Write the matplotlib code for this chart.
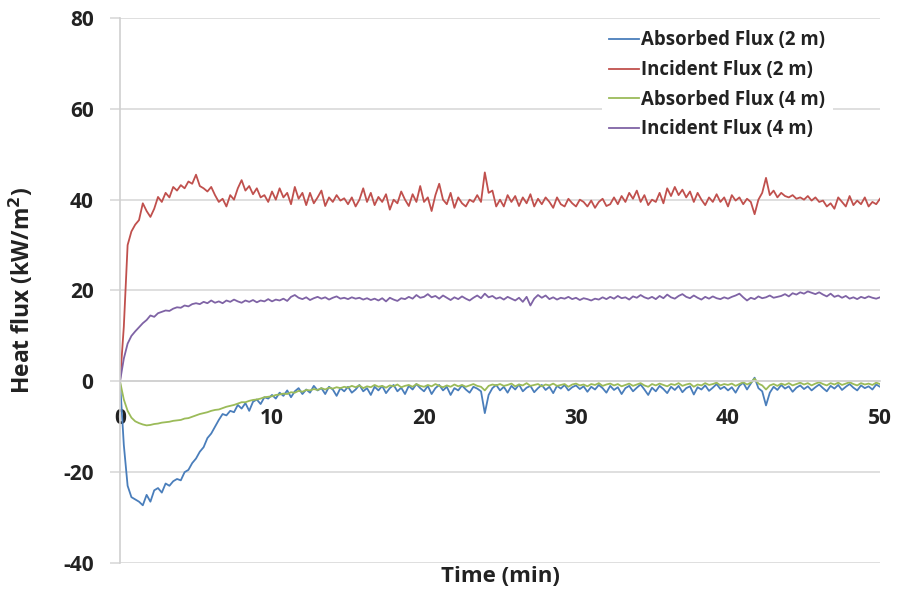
import numpy as np
import matplotlib.pyplot as plt

# time axis (min), one reading every 15 s
t = np.arange(0, 50.01, 0.25)

absorbed_2m = [
    0, -14, -23, -25.5, -26, -26.5, -27.3, -25, -26.5, -24, -23.5, -24.5, -22.5, -23, -22, -21.5, -21.8, -20, -19.5, -18,
    -17, -15.5, -14.5, -12.5, -11.5, -10, -8.5, -7.2, -7.5, -6.5, -6.8, -5.2, -6, -4.8, -6.5, -4.5, -4, -5, -3.5, -3.8,
    -3, -3.8, -2.5, -3.2, -2, -3.5, -2.2, -1.5, -2.8, -1.8, -2.5, -1, -2, -1.5, -2.8, -1.2, -1.8, -3.2, -1.5, -2.2,
    -1.2, -2.5, -1.8, -0.8, -2.2, -1.5, -3, -1.2, -2, -1, -2.6, -1.5, -0.8, -2.2, -1.4, -2.8, -1, -1.8, -0.6, -1.5,
    -2.2, -1, -2.8, -1.5, -0.8, -2, -1.2, -3, -1.5, -2, -0.9, -1.8, -2.5, -1.2, -1.6, -2.2, -7, -3, -1.5, -0.8,
    -2, -1.2, -2.5, -1, -1.8, -0.7, -2.2, -1.4, -1, -2.4, -1.5, -0.8, -1.9, -1.2, -2.6, -1, -1.6, -0.8, -2, -1.3,
    -0.9, -1.7, -1.1, -2.3, -1.2, -1.8, -0.8, -1.5, -2.5, -1, -1.9, -1.3, -2.8, -1.5, -1, -2.2, -1.4, -0.7, -1.8, -3,
    -1.4, -2.2, -1, -1.7, -2.6, -1.2, -1.9, -1, -2.4, -1.5, -1.1, -2.9, -1.3, -1.8, -0.9, -2.1, -1.4, -0.6, -1.7, -1.2,
    -2, -1.3, -2.5, -1, -0.3, -1.8, -0.5, 0.8, -1.5, -2.2, -5.3, -2.5, -1.2, -1.9, -0.8, -1.6, -1.1, -2.3, -1.4, -0.9,
    -1.7, -1.1, -2, -1.3, -0.7, -1.5, -2.2, -1, -1.6, -0.8, -1.9, -1.2, -0.6, -1.4, -2, -0.9, -1.5, -1.1, -1.8, -0.7,
    -1.2,
]

incident_2m = [
    0, 12, 30, 33, 34.5, 35.5, 39.2, 37.5, 36.2, 38, 40.6, 39.5, 41.5, 40.5, 42.8, 42, 43.2, 42.5, 44, 43.5,
    45.5, 43, 42.5, 41.8, 42.8, 41, 39.5, 40.2, 38.5, 41, 40, 42.5, 44.3, 42, 43, 41.2, 42.5, 40.5, 41, 39.5,
    41.8, 40, 42.5, 40.5, 41.5, 39, 42.8, 40.2, 41.5, 38.8, 41.5, 39.2, 40.5, 42, 38.6, 40.5, 39.5, 41, 39.8, 40.3,
    39, 40.5, 38.5, 40, 42.5, 39.5, 41.5, 38.8, 40.6, 39.5, 41.2, 37.8, 40, 39.2, 41.8, 40, 38.6, 41.2, 39.5, 43,
    39.5, 40.5, 37.5, 41, 43.5, 40, 39, 41.5, 38.2, 40.5, 39.2, 38.5, 40, 39.5, 41, 39.5, 46, 41.5, 42, 38.5,
    40, 38.5, 41, 39.5, 40.8, 38.6, 40.5, 39.2, 41.2, 38.5, 40.2, 39, 40.5, 39.5, 38.2, 40.5, 39, 38.5, 40.2, 39.2,
    38.5, 40, 39.5, 38.5, 39.8, 38.2, 39.5, 40.2, 38.6, 39, 40.5, 39, 40.8, 39.5, 41.5, 40.2, 42, 39.5, 41, 38.8,
    40, 39.5, 41.5, 39.2, 42.5, 40.8, 42.8, 41, 42.2, 40.5, 41.8, 39.5, 41.5, 40, 38.8, 40.5, 39.5, 41.2, 39.5, 40.5,
    38.5, 41, 39.8, 40.5, 39, 40.2, 39.5, 36.8, 40, 41.5, 44.8, 41, 42, 40.5, 41.5, 40.8, 40.5, 41, 40.2, 40.5,
    40, 40.8, 39.8, 40.5, 39.5, 39.8, 38.5, 39.2, 38, 40.5, 39.5, 38.5, 40.8, 38.8, 39.8, 39, 40.5, 38.5, 39.5, 39,
    40.2,
]

absorbed_4m = [
    0, -4, -6.5, -8, -8.8, -9.2, -9.5, -9.7, -9.6, -9.4, -9.3, -9.1, -9, -8.9, -8.7, -8.6, -8.5, -8.2, -8.1, -7.8,
    -7.5, -7.2, -7, -6.8, -6.5, -6.3, -6.2, -5.9, -5.6, -5.4, -5.2, -4.9, -4.6, -4.6, -4.3, -4.1, -4, -3.8, -3.5, -3.4,
    -3.3, -3, -2.9, -2.7, -2.8, -2.4, -2.5, -2.1, -2.3, -1.9, -2, -1.7, -1.9, -1.5, -1.8, -1.4, -1.6, -1.3, -1.5, -1.2,
    -1.4, -1, -1.3, -0.9, -1.5, -1.1, -1.3, -0.8, -1.2, -1, -1.4, -0.9, -1.1, -0.7, -1.3, -1, -0.8, -1.2, -0.6, -1,
    -1.2, -0.8, -1.1, -0.6, -1, -1.3, -0.9, -1.2, -0.7, -1.1, -0.8, -1.2, -0.9, -0.6, -1, -1.2, -2, -1, -0.7, -0.9,
    -0.6, -1, -0.8, -0.5, -1.1, -0.7, -0.9, -0.4, -1, -0.8, -0.6, -1.1, -0.7, -0.9, -0.5, -1, -0.8, -0.6, -1.2, -0.7,
    -0.5, -0.9, -0.7, -1.1, -0.6, -0.8, -0.4, -1, -0.7, -0.5, -0.9, -0.6, -1.1, -0.8, -0.5, -1, -0.7, -0.4, -0.9, -1.2,
    -0.6, -0.9, -0.5, -0.8, -1.1, -0.6, -0.8, -0.4, -1, -0.7, -0.5, -1.2, -0.7, -0.9, -0.4, -0.8, -0.6, -0.3, -0.9, -0.6,
    -0.8, -0.5, -1, -0.6, -0.2, -0.7, -0.3, 0.6, -0.5, -0.9, -1.8, -0.9, -0.6, -1, -0.5, -0.8, -0.4, -0.9, -0.6, -0.3,
    -0.7, -0.4, -0.9, -0.5, -0.2, -0.6, -0.9, -0.4, -0.7, -0.3, -0.8, -0.5, -0.2, -0.6, -0.9, -0.4, -0.7, -0.5, -0.8, -0.3,
    -0.6,
]

incident_4m = [
    0, 5, 8.3, 10, 11, 11.9, 12.8, 13.5, 14.5, 14.2, 15, 15.3, 15.6, 15.5, 16, 16.3, 16.2, 16.7, 16.5, 17,
    17.2, 17, 17.5, 17.2, 17.8, 17.3, 17.6, 17.2, 17.8, 17.5, 18, 17.6, 17.3, 17.8, 17.5, 17.9, 17.4, 17.8, 17.6, 18.1,
    17.6, 18, 17.8, 18.2, 17.7, 18.6, 19, 18.4, 18.1, 18.5, 17.9, 18.3, 18.6, 18.2, 18.5, 18, 18.4, 18.7, 18.2, 18.4,
    18.1, 18.5, 18.2, 18.4, 18, 18.3, 17.9, 18.2, 17.8, 18.3, 17.6, 18.4, 18, 17.7, 18.3, 18.1, 18.6, 18.2, 19, 18.4,
    18.6, 19.2, 18.5, 18.8, 18.2, 18.9, 18.4, 17.9, 18.5, 18.1, 18.7, 18.2, 17.8, 18.4, 18.9, 18.3, 19.3, 18.5, 18.8, 18.2,
    18.5, 18, 18.6, 18.2, 17.8, 18.4, 17.5, 18.6, 16.7, 18.2, 19, 18.4, 18.9, 18.1, 18.5, 18, 18.4, 18.2, 18.6, 18.1,
    18.4, 17.9, 18.3, 18.1, 17.8, 18.2, 18, 18.5, 18.1, 18.6, 18.2, 18.8, 18.3, 18.5, 18, 18.7, 18.4, 19, 18.5, 18.2,
    18.6, 18.1, 18.8, 18.3, 19.1, 18.5, 18.2, 18.8, 19.2, 18.6, 18.3, 18.9, 18.4, 18, 18.6, 18.2, 18.7, 18.3, 18.1, 18.5,
    18.2, 18.6, 18.9, 19.3, 18.5, 17.8, 18.4, 18.1, 18.7, 18.3, 18.5, 18.9, 18.4, 18.6, 18.8, 19.2, 18.7, 19.4, 19.1, 19.6,
    19.3, 19.8, 19.5, 19.2, 19.6, 19.1, 18.7, 19.3, 18.6, 18.9, 18.4, 18.8, 18.2, 18.5, 18.1, 18.6, 18.3, 18.7, 18.4, 18.2,
    18.5,
]

labels = ['Absorbed Flux (2 m)', 'Incident Flux (2 m)',
          'Absorbed Flux (4 m)', 'Incident Flux (4 m)']
colors = ['#4A7EBB', '#C0504D', '#9BBB59', '#7F63A5']

plt.rcParams['font.family'] = ['Open Sans', 'DejaVu Sans']
plt.rcParams['font.weight'] = 'bold'
plt.rcParams['axes.unicode_minus'] = False

fig = plt.figure(figsize=(9.01, 6.02), dpi=100)
ax = fig.add_axes([0.1332, 0.0648, 0.8435, 0.9053])

for y, lab, c in zip([absorbed_2m, incident_2m, absorbed_4m, incident_4m], labels, colors):
    ax.plot(t, y, color=c, lw=1.3, label=lab)

ax.set_xlim(0, 50)
ax.set_ylim(-40, 80)
ax.set_xticks(range(0, 51, 10))
ax.set_yticks(range(-40, 81, 20))

ax.grid(axis='y', color='#d9d9d9', lw=1.2)
ax.set_axisbelow(True)
for s in ['top', 'right']:
    ax.spines[s].set_visible(False)
ax.spines['bottom'].set_position(('data', 0))
ax.spines['bottom'].set_color('#d0d0d0')
ax.spines['left'].set_color('#d0d0d0')
ax.spines['bottom'].set_linewidth(1.2)
ax.spines['left'].set_linewidth(1.2)

ax.tick_params(axis='y', length=7, color='#d9d9d9', width=1.2, pad=12, labelsize=15)
ax.tick_params(axis='x', length=0, pad=19, labelsize=15)
for lbl in ax.get_xticklabels() + ax.get_yticklabels():
    lbl.set_fontweight('bold')
    lbl.set_color('#222222')

ax.set_xlabel('Time (min)', fontsize=16, fontweight='bold', color='#222222')
ax.set_ylabel('Heat flux (kW/m$^\\mathbf{2}$)', fontsize=16.5, fontweight='bold', color='#222222')
ax.xaxis.set_label_coords(0.5, -0.005)
ax.yaxis.set_label_coords(-0.111, 0.5)

leg = ax.legend(loc='upper left', bbox_to_anchor=(0.622, 1.008), fontsize=13.4,
                frameon=True, facecolor='white', edgecolor='none', framealpha=1,
                handlelength=1.6, handletextpad=0.1, labelspacing=0.52, borderpad=0.4)
for txt in leg.get_texts():
    txt.set_color('#222222')

fig.savefig('out.png', dpi=100)
